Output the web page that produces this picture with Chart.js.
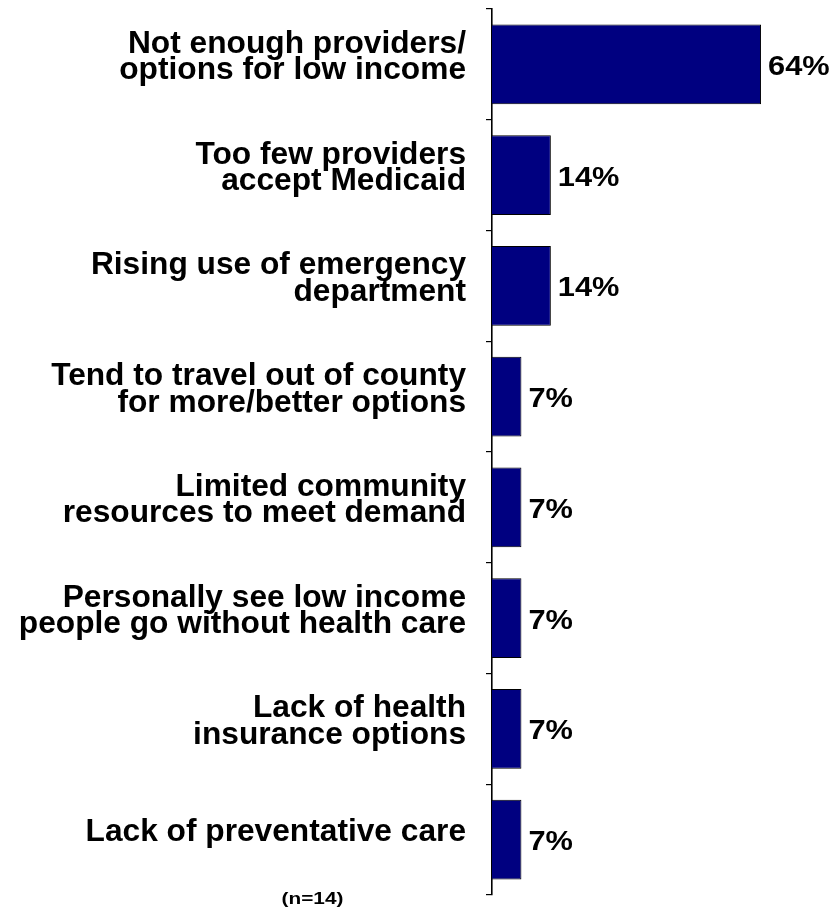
<!DOCTYPE html>
<html>
<head>
<meta charset="utf-8">
<script src="https://cdn.jsdelivr.net/npm/chart.js@4"></script>
<style>
  body { margin: 0; background: #fff; }
  #grafica { display: block; }
</style>
</head>
<body>
<canvas id="grafica" width="835" height="908"></canvas>
<script>
// datos de la grafica
var categorias = [
  ["Not enough providers/", "options for low income"],
  ["Too few providers", "accept Medicaid"],
  ["Rising use of emergency", "department"],
  ["Tend to travel out of county", "for more/better options"],
  ["Limited community", "resources to meet demand"],
  ["Personally see low income", "people go without health care"],
  ["Lack of health", "insurance options"],
  ["Lack of preventative care"]
];
var porcentajes = [64, 14, 14, 7, 7, 7, 7, 7];
var nota = "(n=14)";

var fuente = "'Liberation Sans', Arial, Helvetica, sans-serif";

// etiquetas de valor al final de cada barra (un poco mas anchas, como el original)
var etiquetasValor = {
  id: 'etiquetasValor',
  afterDatasetsDraw: function(chart){
    var ctx = chart.ctx;
    var meta = chart.getDatasetMeta(0);
    ctx.save();
    ctx.font = "bold 28px " + fuente;
    ctx.fillStyle = '#000';
    ctx.textAlign = 'left';
    ctx.textBaseline = 'alphabetic';
    meta.data.forEach(function(barra, i){
      ctx.save();
      ctx.translate(barra.x + 7, barra.y + 10.5);
      ctx.scale(1.1, 1);
      ctx.fillText(porcentajes[i] + '%', 0, 0);
      ctx.restore();
    });
    ctx.restore();
  }
};

// nota del tamaño de muestra
var notaMuestra = {
  id: 'notaMuestra',
  afterDraw: function(chart){
    var ctx = chart.ctx;
    var ejeY = chart.scales.y;
    ctx.save();
    ctx.font = "bold 16px " + fuente;
    ctx.fillStyle = '#000';
    ctx.textAlign = 'center';
    ctx.textBaseline = 'alphabetic';
    ctx.translate(ejeY.right - 179.5, chart.chartArea.bottom + 8.5);
    ctx.scale(1.3, 1);
    ctx.fillText(nota, 0, 0);
    ctx.restore();
  }
};

var grafica = document.getElementById('grafica');
var barchart = new Chart(grafica, {
  type: 'bar',
  data: {
    labels: categorias,
    datasets: [{
      data: porcentajes,
      backgroundColor: '#000080',
      borderColor: '#000000',
      borderWidth: 1,
      categoryPercentage: 0.72,
      barPercentage: 1
    }]
  },
  options: {
    indexAxis: 'y',
    responsive: false,
    animation: false,
    layout: { padding: { top: 9, bottom: 13, left: 0, right: 6.7 } },
    plugins: {
      legend: { display: false },
      tooltip: { enabled: false }
    },
    scales: {
      x: {
        display: false,
        min: 0,
        max: 80
      },
      y: {
        afterFit: function(scale){
          scale.width = 492;
          scale.paddingTop = 0;
          scale.paddingBottom = 0;
        },
        grid: {
          drawOnChartArea: false,
          drawTicks: true,
          tickLength: 6,
          color: '#000',
          lineWidth: 1.2
        },
        border: { display: true, color: '#000', width: 1.6 },
        ticks: {
          color: '#000',
          padding: 20,
          labelOffset: -7,
          font: { family: fuente, size: 31.7, weight: 'bold', lineHeight: 0.84 }
        }
      }
    }
  },
  plugins: [etiquetasValor, notaMuestra]
});
</script>
</body>
</html>
